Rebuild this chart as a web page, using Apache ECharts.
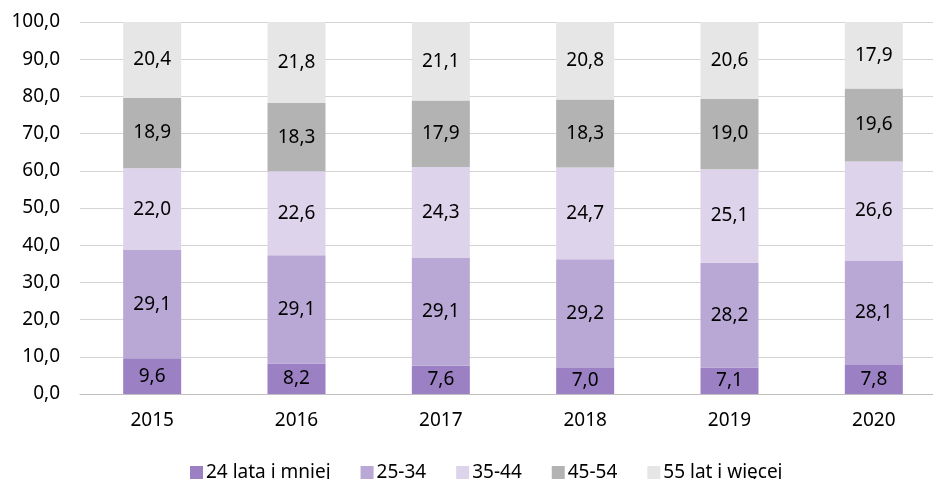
<!DOCTYPE html>
<html>
<head>
<meta charset="utf-8">
<script src="https://cdn.jsdelivr.net/npm/echarts@6/dist/echarts.min.js"></script>
<style>
  html, body { margin: 0; padding: 0; background: #fff; overflow: hidden; }
  /* plot area runs a little past the right edge of the window, as in the original */
  #chart { width: 946px; height: 479px; }
</style>
</head>
<body>
<div id="chart"></div>
<script>
const years = ['2015', '2016', '2017', '2018', '2019', '2020'];
const seriesNames = ['24 lata i mniej', '25-34', '35-44', '45-54', '55 lat i więcej'];
const colors = ['#9b80c3', '#b9a7d6', '#ddd4ec', '#b3b3b3', '#e6e6e6'];
const age24 = [9.6, 8.2, 7.6, 7.0, 7.1, 7.8];
const age25 = [29.1, 29.1, 29.1, 29.2, 28.2, 28.1];
const age35 = [22.0, 22.6, 24.3, 24.7, 25.1, 26.6];
const age45 = [18.9, 18.3, 17.9, 18.3, 19.0, 19.6];
const age55 = [20.4, 21.8, 21.1, 20.8, 20.6, 17.9];
const yTicks = [0, 10, 20, 30, 40, 50, 60, 70, 80, 90, 100];

const font = '"Noto Sans", sans-serif';
const fmt = v => v.toFixed(1).replace('.', ',');

const chart = echarts.init(document.getElementById('chart'), null, {renderer: 'canvas'});

const data = [age24, age25, age35, age45, age55];

chart.setOption({
  animation: false,
  textStyle: {fontFamily: font},
  grid: {left: 80, top: 22, right: 0, height: 372},
  legend: {
    top: 458,
    left: 185,
    itemWidth: 13,
    itemHeight: 13,
    itemGap: 30,
    icon: 'rect',
    textStyle: {fontSize: 19, color: '#000', fontFamily: font, padding: [0, 0, 0, -2]},
    data: seriesNames
  },
  xAxis: {
    type: 'category',
    data: years,
    axisLine: {lineStyle: {color: '#bfbfbf'}},
    axisTick: {show: false},
    axisLabel: {fontSize: 19, color: '#000', margin: 17}
  },
  yAxis: {
    type: 'value',
    min: yTicks[0],
    max: yTicks[yTicks.length - 1],
    interval: 10,
    axisLine: {show: false},
    axisTick: {show: false},
    splitLine: {lineStyle: {color: '#d4d4d4'}},
    axisLabel: {fontSize: 19, color: '#000', margin: 20, formatter: v => fmt(v)}
  },
  series: seriesNames.map((name, i) => ({
    name: name,
    type: 'bar',
    stack: 'total',
    barWidth: 58,
    itemStyle: {color: colors[i]},
    label: {
      show: true,
      position: 'inside',
      fontSize: 19,
      color: '#000',
      formatter: p => fmt(p.value)
    },
    data: data[i]
  }))
});
</script>
</body>
</html>
